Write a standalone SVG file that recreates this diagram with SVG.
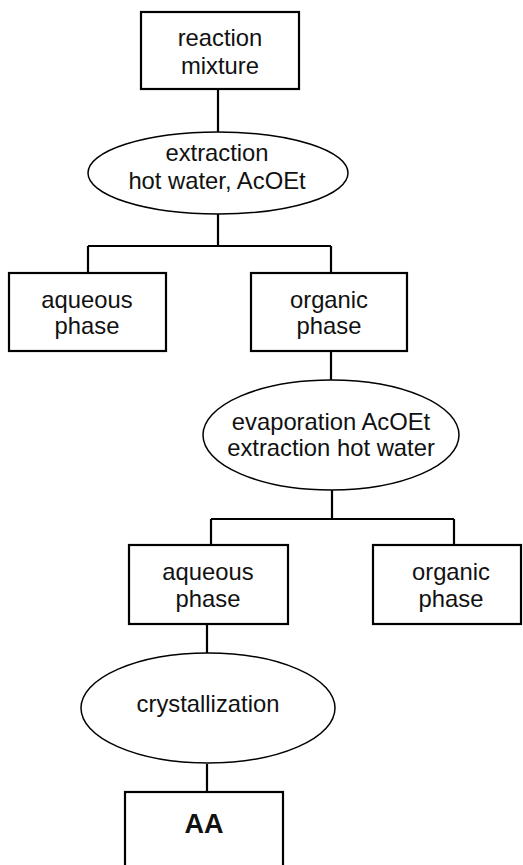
<svg xmlns="http://www.w3.org/2000/svg" width="523" height="865" viewBox="0 0 523 865">
<style>
.box{fill:#fff;stroke:#000;stroke-width:2.2}
.ell{fill:#fff;stroke:#000;stroke-width:1.5}
.t{font-family:"Liberation Sans",Arial,sans-serif;font-size:23.8px;fill:#111;text-anchor:middle}
.b{font-weight:bold;font-size:27px}
.c{fill:none;stroke:#000;stroke-width:2.2}
</style>
<rect width="523" height="865" fill="#fff"/>
<g id="connectors">
<path class="c" d="M218 89V132M218 213V246M88 246H331M88 246V273M331 246V273M331 351V380M332 490V519M211 519H454M211 519V545M454 519V545M207 624V653M207 764V792"/>
</g>
<g id="n1"><rect class="box" x="141" y="12" width="158" height="77"/><text class="t" x="220" y="46">reaction</text><text class="t" x="220" y="74">mixture</text></g>
<g id="n2"><ellipse class="ell" cx="218" cy="173" rx="130" ry="41"/><text class="t" x="217" y="161">extraction</text><text class="t" x="217" y="189">hot water, AcOEt</text></g>
<g id="n3"><rect class="box" x="9" y="273" width="157" height="78"/><text class="t" x="87" y="308">aqueous</text><text class="t" x="87" y="334">phase</text></g>
<g id="n4"><rect class="box" x="251" y="273" width="156" height="78"/><text class="t" x="329" y="308">organic</text><text class="t" x="329" y="334">phase</text></g>
<g id="n5"><ellipse class="ell" cx="331" cy="435" rx="128" ry="55"/><text class="t" x="331" y="430">evaporation AcOEt</text><text class="t" x="331" y="456">extraction hot water</text></g>
<g id="n6"><rect class="box" x="129" y="545" width="159" height="79"/><text class="t" x="208" y="580">aqueous</text><text class="t" x="208" y="607">phase</text></g>
<g id="n7"><rect class="box" x="373" y="545" width="148" height="79"/><text class="t" x="451" y="580">organic</text><text class="t" x="451" y="607">phase</text></g>
<g id="n8"><ellipse class="ell" cx="208" cy="708" rx="127" ry="55"/><text class="t" x="208" y="712">crystallization</text></g>
<g id="n9"><rect class="box" x="125" y="792" width="158" height="90"/><text class="t b" x="204" y="833">AA</text></g>
</svg>
